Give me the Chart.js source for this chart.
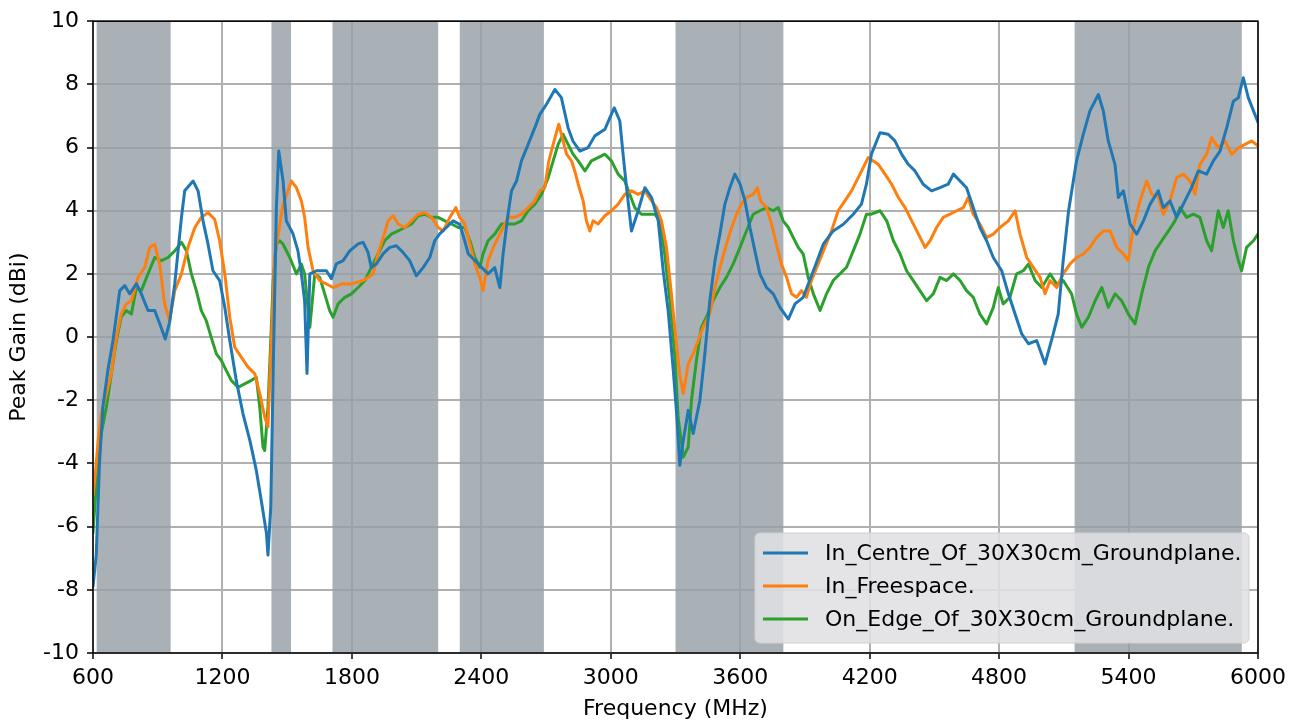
<!DOCTYPE html>
<html>
<head>
<meta charset="utf-8">
<script src="https://cdn.jsdelivr.net/npm/chart.js@4.4.1/dist/chart.umd.min.js"></script>
<style>
  html, body { margin: 0; padding: 0; background: #ffffff; }
  #wrap { width: 1301px; height: 723px; }
</style>
</head>
<body>
<div id="wrap"><canvas id="c" width="1301" height="723"></canvas></div>
<script>
// ---------------- DATA ----------------
const seriesLabels = [
  "In_Centre_Of_30X30cm_Groundplane.",
  "In_Freespace.",
  "On_Edge_Of_30X30cm_Groundplane."
];
const xTicks = [600, 1200, 1800, 2400, 3000, 3600, 4200, 4800, 5400, 6000];
const yTicks = [-10, -8, -6, -4, -2, 0, 2, 4, 6, 8, 10];

// shaded frequency bands (MHz)
const bandStart = [617, 1427, 1710, 2300, 3300, 5150];
const bandEnd   = [960, 1518, 2200, 2690, 3800, 5925];

// In_Centre_Of_30X30cm_Groundplane.
const freqCentre = [600,615,630,646,670,693,724,747,770,801,824,855,886,909,935,955,979,1010,1025,1064,1087,1110,1133,1156,1187,1211,1234,1264,1295,1327,1357,1380,1404,1411,1424,1435,1450,1461,1481,1496,1527,1550,1566,1581,1592,1605,1636,1682,1705,1728,1759,1790,1829,1852,1875,1890,1914,1945,1976,2006,2037,2068,2099,2130,2161,2184,2207,2238,2269,2300,2323,2339,2385,2431,2462,2486,2501,2524,2540,2563,2586,2617,2648,2671,2702,2741,2771,2802,2825,2857,2895,2926,2973,2996,3016,3042,3057,3073,3096,3127,3158,3189,3220,3243,3266,3289,3305,3320,3336,3359,3382,3413,3436,3459,3483,3506,3529,3552,3575,3599,3622,3645,3668,3691,3722,3753,3784,3823,3854,3892,3939,3985,4031,4078,4124,4162,4185,4208,4248,4286,4317,4348,4379,4410,4448,4487,4526,4564,4588,4619,4649,4680,4711,4742,4773,4812,4843,4874,4905,4936,4974,5013,5051,5074,5097,5122,5159,5190,5221,5260,5283,5306,5337,5353,5376,5407,5438,5469,5500,5538,5561,5592,5623,5654,5692,5723,5762,5793,5824,5855,5886,5909,5932,5955,5979,6000];
const gainCentre = [-7.9,-6.9,-4.0,-2.2,-1.0,-0.1,1.47,1.63,1.37,1.69,1.37,0.84,0.84,0.43,-0.06,0.47,1.69,3.79,4.63,4.94,4.63,3.68,2.95,2.1,1.79,0.94,-0.11,-1.37,-2.42,-3.27,-4.22,-5.17,-6.21,-6.9,-5.38,-1.16,4.1,5.89,4.94,3.68,3.27,2.73,2.0,1.15,-1.15,2.0,2.1,2.1,1.85,2.32,2.42,2.73,2.95,3.0,2.68,2.2,2.32,2.64,2.84,2.89,2.68,2.42,1.94,2.2,2.52,3.05,3.27,3.47,3.68,3.57,3.05,2.64,2.32,2.0,2.2,1.57,2.64,3.9,4.63,4.94,5.58,6.1,6.63,7.05,7.37,7.84,7.58,6.63,6.2,5.89,6.0,6.37,6.58,6.95,7.26,6.84,5.79,4.73,3.36,4.0,4.73,4.42,3.68,2.1,0.84,-1.0,-2.4,-4.06,-3.27,-2.32,-3.05,-2.0,-0.53,1.15,2.42,3.27,4.21,4.73,5.16,4.85,4.31,3.47,2.73,2.0,1.57,1.37,0.94,0.57,1.05,1.26,2.1,2.94,3.36,3.57,3.89,4.21,4.84,5.79,6.47,6.42,6.21,5.79,5.47,5.26,4.84,4.63,4.73,4.84,5.16,4.94,4.73,4.1,3.47,3.05,2.52,2.1,1.37,0.73,0.1,-0.21,-0.11,-0.85,0.1,0.73,2.42,4.0,5.58,6.42,7.16,7.68,7.16,6.21,5.47,4.42,4.63,3.58,3.26,3.68,4.21,4.63,4.1,4.31,3.79,4.21,4.73,5.26,5.16,5.58,5.89,6.63,7.47,7.58,8.21,7.58,7.16,6.8];

// In_Freespace.
const freqFree = [600,610,625,638,662,685,708,731,754,778,809,840,863,886,909,932,955,979,1010,1040,1072,1102,1133,1164,1187,1211,1234,1257,1288,1319,1350,1373,1396,1411,1427,1442,1466,1481,1497,1520,1543,1566,1581,1597,1620,1651,1682,1713,1751,1790,1821,1852,1875,1898,1921,1945,1968,1991,2014,2045,2076,2107,2138,2169,2200,2223,2254,2282,2300,2323,2347,2370,2393,2408,2431,2462,2493,2524,2555,2586,2617,2648,2671,2694,2713,2733,2759,2779,2795,2818,2833,2849,2872,2887,2903,2918,2941,2973,3003,3034,3065,3096,3127,3158,3189,3212,3235,3258,3281,3304,3320,3336,3359,3382,3405,3428,3459,3483,3506,3536,3560,3583,3606,3629,3660,3680,3694,3722,3745,3768,3791,3815,3838,3861,3884,3907,3930,3961,3992,4023,4054,4085,4116,4147,4170,4193,4240,4271,4302,4333,4364,4395,4426,4457,4480,4510,4541,4572,4603,4634,4657,4680,4711,4742,4773,4804,4843,4874,4897,4928,4959,4990,5013,5036,5067,5097,5128,5159,5190,5221,5252,5283,5314,5345,5376,5399,5422,5453,5484,5507,5538,5561,5592,5623,5654,5685,5708,5731,5762,5785,5816,5847,5878,5909,5940,5971,6000];
const gainFree = [-5.0,-4.4,-3.2,-2.43,-1.79,-1.16,-0.01,0.73,1.05,1.15,1.89,2.21,2.84,2.94,2.31,1.05,0.52,1.47,2.0,2.84,3.47,3.79,3.94,3.73,3.05,2.0,0.63,-0.32,-0.64,-0.95,-1.16,-1.79,-2.53,-2.85,-0.11,2.52,3.58,4.21,4.5,4.94,4.73,4.31,3.79,2.84,2.1,1.79,1.68,1.57,1.68,1.68,1.73,1.79,1.89,2.0,2.63,3.15,3.68,3.84,3.58,3.47,3.68,3.89,3.94,3.79,3.47,3.36,3.79,4.1,3.79,3.58,2.94,2.31,1.89,1.47,2.42,2.94,3.36,3.79,3.79,3.89,4.1,4.31,4.63,4.73,5.58,6.1,6.74,6.21,5.79,5.58,5.26,4.84,4.31,3.68,3.36,3.68,3.58,3.84,4.0,4.21,4.52,4.63,4.52,4.63,4.31,4.1,3.68,2.84,1.37,-0.21,-1.2,-1.79,-0.85,-0.53,-0.11,0.31,0.73,1.57,2.21,2.94,3.47,3.89,4.21,4.42,4.52,4.73,4.31,4.1,3.58,2.94,2.31,1.89,1.37,1.26,1.47,1.26,1.79,2.31,2.84,3.36,4.0,4.31,4.63,5.05,5.36,5.68,5.47,5.16,4.84,4.42,4.1,3.68,3.26,2.84,3.05,3.47,3.79,3.89,4.0,4.1,4.42,3.89,3.58,3.15,3.26,3.47,3.68,4.0,3.26,2.52,2.2,1.89,1.37,1.79,1.57,2.0,2.31,2.52,2.63,2.84,3.15,3.36,3.36,2.84,2.63,2.42,3.47,4.31,4.94,4.52,4.42,3.89,4.31,5.05,5.16,4.94,4.52,5.47,5.79,6.31,5.99,6.21,5.79,5.99,6.1,6.21,6.05];

// On_Edge_Of_30X30cm_Groundplane.
const freqEdge = [600,612,623,638,662,685,708,731,754,778,801,824,855,886,917,948,979,1010,1033,1056,1079,1102,1125,1148,1172,1195,1218,1241,1272,1303,1334,1357,1373,1388,1396,1411,1424,1435,1450,1466,1481,1512,1543,1566,1581,1605,1628,1651,1674,1697,1713,1736,1767,1798,1829,1860,1890,1921,1952,1983,2014,2045,2076,2107,2138,2169,2200,2231,2262,2293,2323,2347,2370,2393,2408,2431,2462,2493,2524,2555,2586,2617,2648,2679,2710,2733,2756,2779,2802,2825,2849,2880,2910,2941,2973,3003,3034,3065,3088,3111,3142,3173,3204,3227,3250,3274,3297,3312,3336,3359,3374,3397,3420,3443,3474,3506,3536,3567,3599,3629,3660,3691,3722,3753,3776,3799,3823,3846,3869,3892,3915,3939,3970,4000,4031,4062,4093,4124,4155,4185,4208,4248,4279,4310,4341,4371,4402,4433,4464,4495,4526,4557,4588,4619,4649,4680,4711,4742,4773,4796,4819,4850,4881,4912,4936,4967,4998,5036,5067,5097,5136,5159,5183,5214,5245,5276,5306,5337,5368,5399,5430,5461,5492,5523,5554,5585,5615,5639,5669,5700,5731,5762,5785,5816,5839,5862,5886,5909,5924,5947,5979,6000];
const gainEdge = [-6.2,-5.0,-3.8,-3.06,-2.22,-1.16,-0.11,0.63,0.84,0.73,1.57,1.47,2.0,2.52,2.42,2.52,2.73,3.0,2.73,2.0,1.47,0.84,0.52,-0.01,-0.53,-0.74,-1.06,-1.37,-1.59,-1.48,-1.37,-1.27,-2.22,-3.48,-3.59,-2.22,-0.11,1.79,2.94,3.05,2.94,2.52,2.0,2.31,2.0,0.31,2.0,1.89,1.37,0.84,0.63,1.05,1.26,1.37,1.57,1.79,2.21,2.63,3.05,3.26,3.36,3.47,3.58,3.84,3.89,3.79,3.79,3.68,3.58,3.47,3.47,3.05,2.52,2.21,2.63,3.05,3.26,3.58,3.58,3.58,3.68,4.0,4.21,4.52,5.05,5.58,6.1,6.42,6.1,5.79,5.58,5.26,5.58,5.68,5.79,5.58,5.16,4.94,4.52,4.1,3.89,3.89,3.89,3.68,2.63,1.15,-0.6,-2.53,-3.8,-3.48,-2.0,-0.74,0.31,0.63,1.15,1.57,1.89,2.31,2.84,3.36,3.89,4.0,4.1,4.0,4.1,3.68,3.47,3.15,2.84,2.63,1.89,1.37,0.84,1.37,1.79,2.0,2.21,2.73,3.26,3.89,3.89,4.0,3.68,3.05,2.63,2.1,1.79,1.47,1.15,1.37,1.89,1.79,2.0,1.79,1.47,1.26,0.73,0.42,0.94,1.57,1.05,1.26,2.0,2.1,2.31,1.79,1.57,2.0,1.68,1.79,1.37,0.73,0.31,0.63,1.15,1.57,0.94,1.37,1.15,0.73,0.42,1.37,2.21,2.73,3.05,3.36,3.68,4.1,3.79,3.89,3.79,3.05,2.73,4.0,3.47,4.0,3.05,2.42,2.1,2.84,3.05,3.26];

const seriesColors = ["#1f77b4", "#ff7f0e", "#2ca02c"];

// --------------- BUILD ---------------
function pts(fx, gy) { return fx.map((f, i) => ({ x: f, y: gy[i] })); }
const FONT = '"DejaVu Sans", "Liberation Sans", sans-serif';
const FSIZE = 22;

const bandsPlugin = {
  id: 'bands',
  beforeDatasetsDraw(chart) {
    const { ctx, chartArea: a, scales: { x } } = chart;
    ctx.save();
    ctx.fillStyle = 'rgba(150,160,166,0.82)';
    for (let i = 0; i < bandStart.length; i++) {
      const x0 = x.getPixelForValue(bandStart[i]);
      const x1 = x.getPixelForValue(bandEnd[i]);
      ctx.fillRect(x0, a.top, x1 - x0, a.bottom - a.top);
    }
    ctx.restore();
  }
};

const framePlugin = {
  id: 'frame',
  afterDatasetsDraw(chart) {
    const { ctx, chartArea: a } = chart;
    ctx.save();
    ctx.strokeStyle = '#000';
    ctx.lineWidth = 1.5;
    ctx.strokeRect(a.left, a.top, a.right - a.left, a.bottom - a.top);

    // legend (inside the axes, lower right)
    const lx = 755, ly = 533, lw = 494, lh = 110, r = 5;
    ctx.beginPath();
    ctx.moveTo(lx + r, ly);
    ctx.arcTo(lx + lw, ly, lx + lw, ly + lh, r);
    ctx.arcTo(lx + lw, ly + lh, lx, ly + lh, r);
    ctx.arcTo(lx, ly + lh, lx, ly, r);
    ctx.arcTo(lx, ly, lx + lw, ly, r);
    ctx.closePath();
    ctx.fillStyle = 'rgba(224,224,226,0.88)';
    ctx.fill();
    ctx.strokeStyle = '#cfcfcf';
    ctx.lineWidth = 1;
    ctx.stroke();

    ctx.font = FSIZE + 'px ' + FONT;
    ctx.textBaseline = 'middle';
    ctx.textAlign = 'left';
    const rows = [553, 586, 619];
    chart.data.datasets.forEach((ds, i) => {
      ctx.strokeStyle = ds.borderColor;
      ctx.lineWidth = 3;
      ctx.beginPath();
      ctx.moveTo(763, rows[i]);
      ctx.lineTo(808, rows[i]);
      ctx.stroke();
      ctx.fillStyle = '#000';
      ctx.fillText(ds.label, 825, rows[i] + 1);
    });
    ctx.restore();
  }
};

new Chart(document.getElementById('c'), {
  type: 'line',
  data: {
    datasets: [
      { label: seriesLabels[0], data: pts(freqCentre, gainCentre), borderColor: seriesColors[0] },
      { label: seriesLabels[1], data: pts(freqFree, gainFree), borderColor: seriesColors[1] },
      { label: seriesLabels[2], data: pts(freqEdge, gainEdge), borderColor: seriesColors[2] }
    ]
  },
  options: {
    responsive: false,
    devicePixelRatio: 1,
    animation: false,
    elements: {
      point: { radius: 0 },
      line: { borderWidth: 3, tension: 0, borderJoinStyle: 'round', borderCapStyle: 'round' }
    },
    layout: { padding: { top: 20, right: 43, left: 0, bottom: 0 } },
    plugins: { legend: { display: false }, tooltip: { enabled: false } },
    scales: {
      x: {
        type: 'linear',
        min: 600, max: 6000,
        afterBuildTicks: (s) => { s.ticks = xTicks.map(v => ({ value: v })); },
        afterFit: (s) => { s.height = 70; },
        grid: { color: '#b0b0b0', lineWidth: 2, tickColor: '#000', tickLength: 6, tickWidth: 1.5 },
        border: { display: false },
        ticks: { color: '#000', font: { size: FSIZE, family: FONT }, padding: 6, maxRotation: 0,
                 callback: (v) => String(v) },
        title: { display: true, text: 'Frequency (MHz)', color: '#000', font: { size: FSIZE, family: FONT }, padding: { top: 0, bottom: 1 } }
      },
      y: {
        type: 'linear',
        min: -10, max: 10,
        afterBuildTicks: (s) => { s.ticks = yTicks.map(v => ({ value: v })); },
        afterFit: (s) => { s.width = 93; },
        grid: { color: '#b0b0b0', lineWidth: 2, tickColor: '#000', tickLength: 6, tickWidth: 1.5 },
        border: { display: false },
        ticks: { color: '#000', font: { size: FSIZE, family: FONT }, padding: 8, callback: (v) => String(v) },
        title: { display: true, text: 'Peak Gain (dBi)', color: '#000', font: { size: FSIZE, family: FONT }, padding: { top: 6, bottom: 0 } }
      }
    }
  },
  plugins: [bandsPlugin, framePlugin]
});
</script>
</body>
</html>
